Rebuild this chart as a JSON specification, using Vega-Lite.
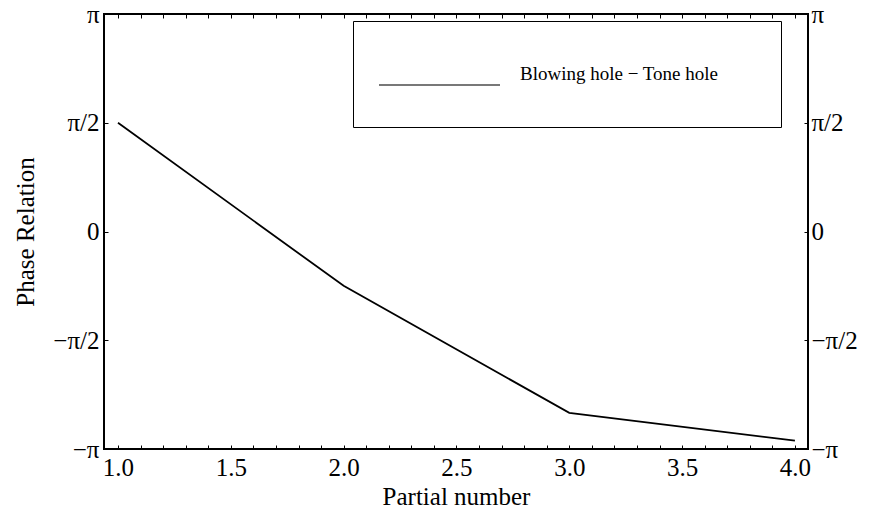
{
  "$schema": "https://vega.github.io/schema/vega-lite/v6.json",
  "width": 704,
  "height": 435,
  "autosize": {"type": "none"},
  "padding": {"left": 104, "top": 14, "right": 65, "bottom": 67},
  "background": "white",
  "config": {
    "view": {"stroke": "black", "strokeWidth": 2},
    "font": "Liberation Serif",
    "axis": {
      "domain": false,
      "grid": false,
      "tickColor": "black",
      "tickWidth": 1,
      "tickSize": -4,
      "labelColor": "black",
      "labelFont": "Liberation Serif",
      "labelFontSize": 25,
      "labelFlush": false,
      "labelBound": false,
      "labelOverlap": false,
      "titleFont": "Liberation Serif",
      "titleFontSize": 25,
      "titleFontWeight": "normal",
      "titleColor": "black"
    },
    "legend": {
      "labelFont": "Liberation Serif"
    }
  },
  "data": {
    "values": [
      {"partial": 1, "phase": 1.5708, "series": "Blowing hole − Tone hole"},
      {"partial": 2, "phase": -0.785, "series": "Blowing hole − Tone hole"},
      {"partial": 3, "phase": -2.62, "series": "Blowing hole − Tone hole"},
      {"partial": 4, "phase": -3.02, "series": "Blowing hole − Tone hole"}
    ]
  },
  "layer": [
    {
      "mark": {"type": "line", "strokeWidth": 1.8},
      "encoding": {
        "x": {
          "field": "partial",
          "type": "quantitative",
          "scale": {"domain": [0.938, 4.058], "nice": false, "zero": false},
          "axis": {
            "orient": "bottom",
            "title": "Partial number",
            "values": [1.0,1.1,1.2,1.3,1.4,1.5,1.6,1.7,1.8,1.9,2.0,2.1,2.2,2.3,2.4,2.5,2.6,2.7,2.8,2.9,3.0,3.1,3.2,3.3,3.4,3.5,3.6,3.7,3.8,3.9,4.0],
            "labelExpr": "abs(datum.value*2 - round(datum.value*2)) < 0.001 ? format(datum.value, '.1f') : ''",
            "labelPadding": 10,
            "titlePadding": 4
          }
        },
        "y": {
          "field": "phase",
          "type": "quantitative",
          "scale": {"domain": [-3.14159265, 3.14159265], "nice": false, "zero": false},
          "axis": {
            "orient": "left",
            "title": "Phase Relation",
            "values": [-3.14159265, -1.57079633, 0, 1.57079633, 3.14159265],
            "labelExpr": "['−π','−π/2','0','π/2','π'][round(datum.value*2/PI)+2]",
            "labelPadding": 9,
            "titlePadding": 14
          }
        },
        "color": {
          "field": "series",
          "type": "nominal",
          "scale": {"range": ["black"]},
          "legend": {
            "orient": "none",
            "legendX": 249,
            "legendY": 7,
            "title": " ",
            "titleOrient": "right",
            "titlePadding": 38,
            "strokeColor": "black",
            "padding": 25,
            "clipHeight": 56,
            "symbolType": "M-1,0.18H1",
            "symbolSize": 14641,
            "symbolStrokeWidth": 1.5,
            "symbolOpacity": 0.7,
            "symbolFillColor": "transparent",
            "labelOffset": 19,
            "labelFontSize": 19,
            "labelColor": "black",
            "labelLimit": 400
          }
        }
      }
    },
    {
      "mark": {"type": "line", "opacity": 0},
      "encoding": {
        "x": {
          "field": "partial",
          "type": "quantitative",
          "axis": {
            "orient": "top",
            "title": null,
            "labels": false,
            "values": [1.0,1.1,1.2,1.3,1.4,1.5,1.6,1.7,1.8,1.9,2.0,2.1,2.2,2.3,2.4,2.5,2.6,2.7,2.8,2.9,3.0,3.1,3.2,3.3,3.4,3.5,3.6,3.7,3.8,3.9,4.0]
          }
        },
        "y": {
          "field": "phase",
          "type": "quantitative",
          "axis": {
            "orient": "right",
            "title": null,
            "values": [-3.14159265, -1.57079633, 0, 1.57079633, 3.14159265],
            "labelExpr": "['−π','−π/2','0','π/2','π'][round(datum.value*2/PI)+2]",
            "labelPadding": 7
          }
        }
      }
    }
  ],
  "resolve": {"axis": {"x": "independent", "y": "independent"}}
}
